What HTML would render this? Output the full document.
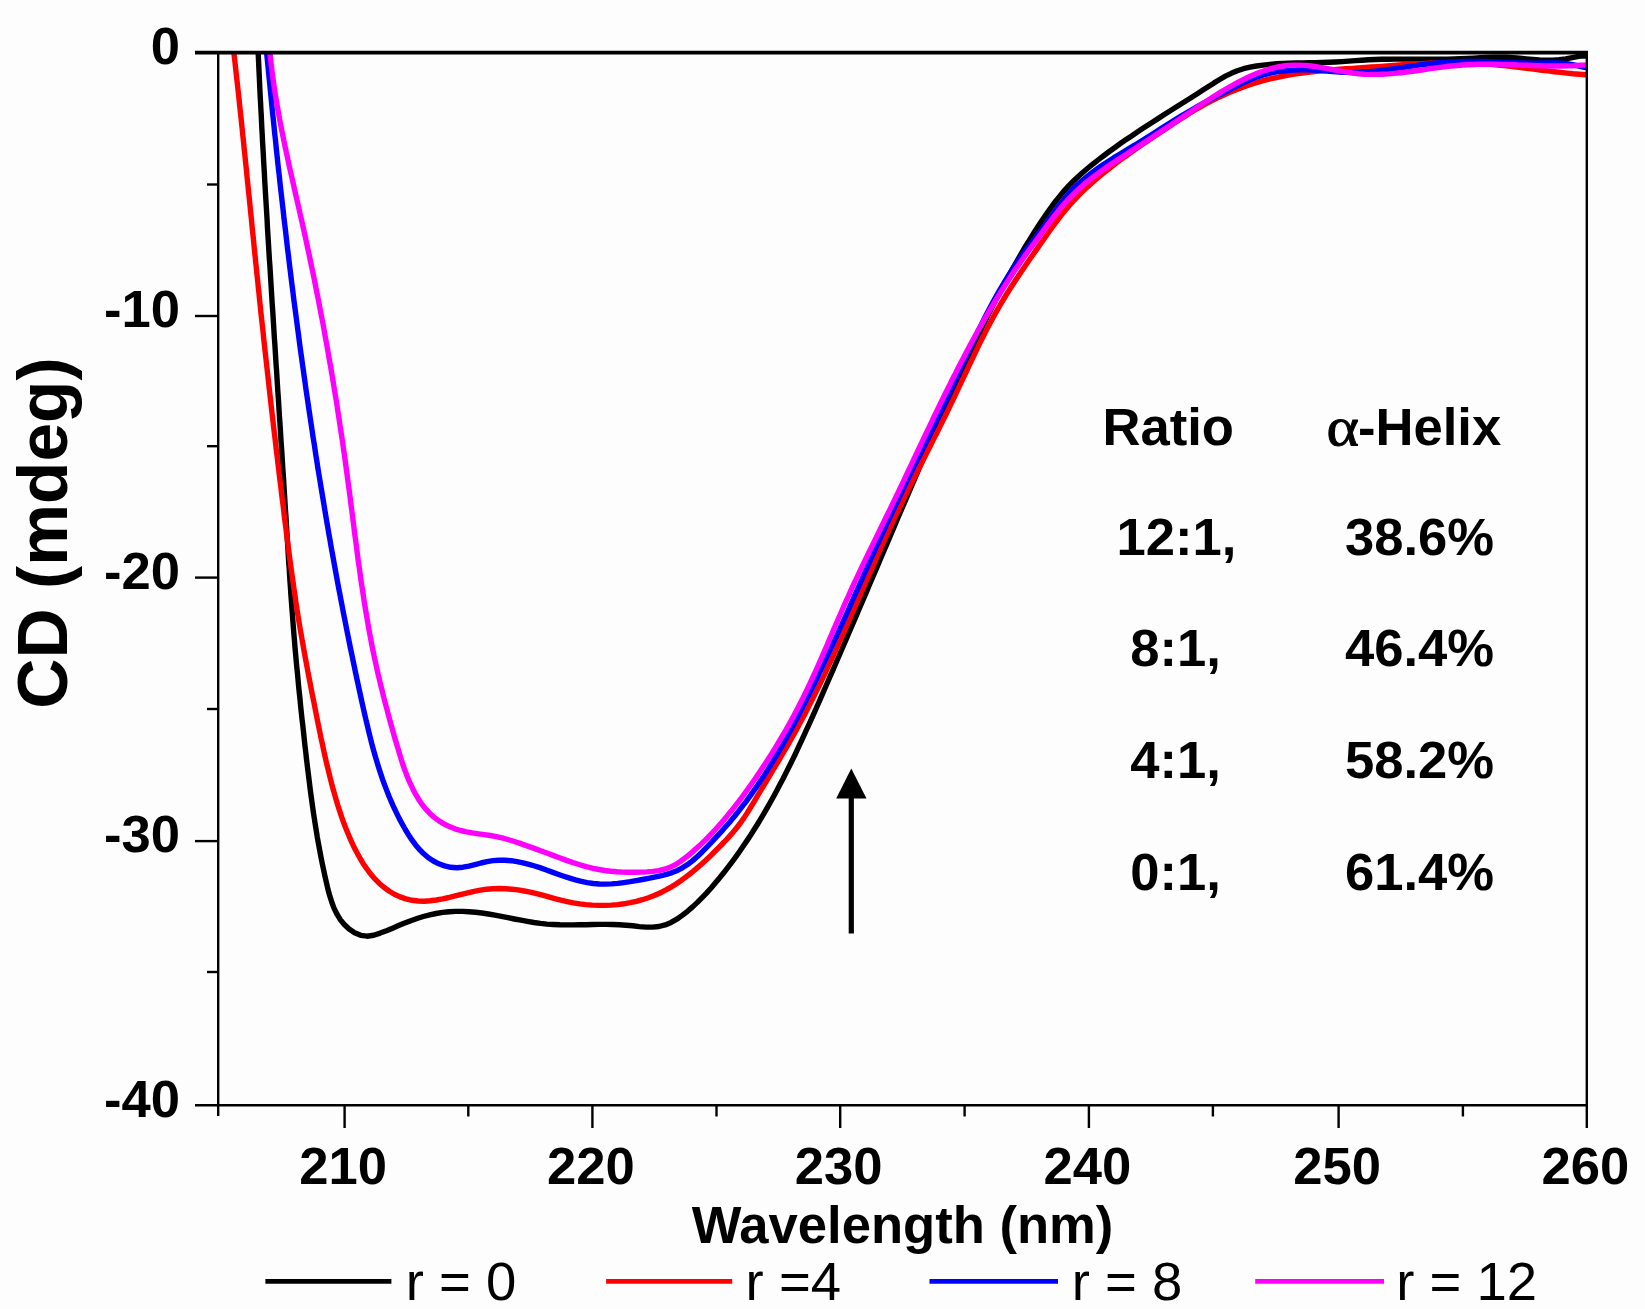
<!DOCTYPE html>
<html lang="en">
<head>
<meta charset="utf-8">
<title>CD spectra</title>
<style>
html,body{margin:0;padding:0;background:#fdfdfd;}
body{width:1645px;height:1309px;overflow:hidden;}
svg{display:block;filter:blur(0.6px);}
</style>
</head>
<body>
<svg width="1645" height="1309" viewBox="0 0 1645 1309">
<rect width="1645" height="1309" fill="#fdfdfd"/>
<clipPath id="c"><rect x="218.2" y="52.6" width="1368.6" height="1052.6000000000001"/></clipPath>
<g clip-path="url(#c)" fill="none" stroke-width="5.4" stroke-linejoin="round">
<path d="M257.7,42.0 L258.0,48.6 L258.3,55.2 L258.6,61.8 L258.9,68.4 L259.2,74.9 L259.5,81.5 L259.8,88.1 L260.1,94.7 L260.5,101.3 L260.8,107.9 L261.2,114.4 L261.5,121.0 L261.8,127.6 L262.2,134.2 L262.5,140.8 L262.9,147.4 L263.3,154.0 L263.6,160.5 L264.0,167.1 L264.4,173.7 L264.7,180.3 L265.1,186.9 L265.5,193.5 L265.9,200.1 L266.3,206.6 L266.7,213.2 L267.1,219.8 L267.4,226.4 L267.8,233.0 L268.2,239.6 L268.6,246.1 L269.0,252.7 L269.4,259.3 L269.9,265.9 L270.3,272.5 L270.7,279.1 L271.1,285.6 L271.5,292.2 L271.9,298.8 L272.3,305.4 L272.8,312.0 L273.2,318.6 L273.6,325.1 L274.0,331.7 L274.4,338.3 L274.9,344.9 L275.3,351.5 L275.7,358.1 L276.1,364.6 L276.6,371.2 L277.0,377.8 L277.4,384.4 L277.8,391.0 L278.3,397.5 L278.7,404.1 L279.1,410.7 L279.5,417.3 L280.0,423.9 L280.4,430.4 L280.8,437.0 L281.2,443.6 L281.7,450.2 L282.1,456.8 L282.5,463.3 L282.9,469.9 L283.4,476.5 L283.8,483.1 L284.2,489.7 L284.6,496.2 L285.0,502.8 L285.4,509.4 L285.9,516.0 L286.3,522.5 L286.7,529.1 L287.1,535.7 L287.5,542.3 L287.9,548.8 L288.3,555.4 L288.7,562.0 L289.2,568.6 L289.6,575.1 L290.0,581.7 L290.5,588.3 L290.9,594.9 L291.4,601.4 L291.9,608.0 L292.4,614.6 L292.9,621.2 L293.4,627.8 L293.9,634.3 L294.5,640.9 L295.0,647.5 L295.6,654.1 L296.2,660.7 L296.8,667.3 L297.5,673.8 L298.1,680.4 L298.7,687.0 L299.4,693.6 L300.1,700.1 L300.7,706.7 L301.4,713.3 L302.1,719.8 L302.9,726.4 L303.6,732.9 L304.3,739.5 L305.0,746.0 L305.8,752.5 L306.5,759.1 L307.3,765.6 L308.1,772.1 L308.9,778.6 L309.7,785.1 L310.5,791.6 L311.4,798.1 L312.3,804.6 L313.2,811.1 L314.2,817.6 L315.2,824.1 L316.3,830.7 L317.3,837.2 L318.5,843.7 L319.7,850.2 L320.9,856.7 L322.2,863.3 L323.6,869.8 L325.0,876.4 L326.5,882.9 L328.0,889.5 L329.8,895.9 L331.8,902.3 L334.1,908.4 L337.0,914.2 L340.3,919.6 L344.3,924.5 L349.1,929.0 L354.6,932.7 L360.7,935.3 L367.1,936.2 L373.7,935.3 L380.2,933.1 L386.5,930.7 L392.6,928.2 L398.6,925.6 L404.7,923.1 L410.8,920.7 L417.0,918.5 L423.3,916.5 L429.7,914.9 L436.2,913.5 L442.7,912.4 L449.2,911.7 L455.8,911.4 L462.3,911.4 L468.9,911.7 L475.4,912.2 L481.9,913.0 L488.4,914.0 L494.9,915.2 L501.4,916.4 L507.9,917.7 L514.4,919.0 L520.9,920.2 L527.4,921.4 L533.9,922.5 L540.4,923.4 L546.9,924.1 L553.4,924.5 L559.9,924.8 L566.4,924.9 L573.0,924.9 L579.5,924.8 L586.1,924.7 L592.7,924.5 L599.3,924.4 L605.9,924.4 L612.6,924.5 L619.3,924.7 L626.0,925.2 L632.7,925.8 L639.4,926.6 L646.1,927.1 L652.6,927.1 L659.0,926.5 L665.2,924.9 L671.1,922.4 L676.8,919.2 L682.2,915.4 L687.5,911.3 L692.6,906.9 L697.4,902.4 L702.1,897.7 L706.7,892.9 L711.1,888.0 L715.3,883.0 L719.5,878.0 L723.7,872.8 L727.7,867.6 L731.7,862.4 L735.6,857.1 L739.4,851.7 L743.1,846.3 L746.8,840.9 L750.4,835.4 L754.0,829.8 L757.5,824.2 L760.9,818.6 L764.3,812.9 L767.6,807.2 L770.8,801.5 L774.0,795.7 L777.1,789.9 L780.2,784.1 L783.3,778.3 L786.2,772.4 L789.2,766.5 L792.1,760.6 L795.0,754.7 L797.8,748.7 L800.6,742.7 L803.4,736.7 L806.1,730.7 L808.9,724.7 L811.6,718.7 L814.3,712.7 L816.9,706.7 L819.6,700.6 L822.2,694.6 L824.9,688.5 L827.5,682.5 L830.1,676.4 L832.8,670.4 L835.4,664.3 L838.0,658.3 L840.6,652.2 L843.2,646.2 L845.8,640.1 L848.4,634.0 L851.0,628.0 L853.6,621.9 L856.2,615.9 L858.8,609.8 L861.4,603.7 L864.0,597.7 L866.6,591.6 L869.1,585.5 L871.7,579.5 L874.3,573.4 L876.9,567.4 L879.5,561.3 L882.0,555.2 L884.6,549.2 L887.2,543.1 L889.8,537.0 L892.4,531.0 L894.9,524.9 L897.5,518.8 L900.1,512.8 L902.7,506.7 L905.3,500.6 L907.9,494.6 L910.5,488.5 L913.1,482.5 L915.7,476.4 L918.3,470.3 L920.9,464.3 L923.5,458.2 L926.1,452.2 L928.7,446.1 L931.3,440.1 L934.0,434.0 L936.6,427.9 L939.2,421.9 L941.9,415.9 L944.5,409.8 L947.2,403.8 L949.9,397.7 L952.5,391.7 L955.2,385.6 L957.9,379.6 L960.6,373.6 L963.3,367.6 L966.1,361.6 L968.8,355.6 L971.6,349.6 L974.4,343.6 L977.2,337.6 L980.1,331.7 L982.9,325.7 L985.8,319.8 L988.8,313.9 L991.7,308.0 L994.7,302.1 L997.7,296.2 L1000.8,290.4 L1003.9,284.6 L1007.0,278.8 L1010.2,273.0 L1013.4,267.3 L1016.7,261.6 L1020.0,255.9 L1023.3,250.2 L1026.7,244.5 L1030.2,238.9 L1033.7,233.3 L1037.2,227.8 L1040.8,222.3 L1044.5,216.8 L1048.3,211.4 L1052.1,206.0 L1056.1,200.7 L1060.2,195.6 L1064.4,190.6 L1068.9,185.7 L1073.5,181.0 L1078.3,176.5 L1083.3,172.0 L1088.3,167.8 L1093.5,163.6 L1098.7,159.5 L1104.0,155.5 L1109.3,151.5 L1114.6,147.7 L1120.0,143.8 L1125.4,140.1 L1130.9,136.4 L1136.3,132.7 L1141.8,129.1 L1147.3,125.5 L1152.8,121.9 L1158.4,118.4 L1163.9,114.8 L1169.5,111.3 L1175.0,107.8 L1180.6,104.3 L1186.2,100.8 L1191.8,97.2 L1197.3,93.7 L1202.9,90.1 L1208.5,86.5 L1214.1,82.9 L1219.7,79.5 L1225.4,76.2 L1231.3,73.3 L1237.3,70.8 L1243.5,68.7 L1250.0,67.2 L1256.5,66.0 L1263.1,65.1 L1269.7,64.4 L1276.3,63.8 L1282.9,63.5 L1289.5,63.2 L1296.1,63.0 L1302.6,62.9 L1309.2,62.8 L1315.8,62.7 L1322.4,62.5 L1329.0,62.3 L1335.5,62.0 L1342.1,61.6 L1348.7,61.1 L1355.3,60.6 L1361.9,60.2 L1368.4,59.8 L1375.0,59.5 L1381.6,59.3 L1388.2,59.2 L1394.8,59.1 L1401.4,59.1 L1408.0,59.1 L1414.6,59.1 L1421.2,59.1 L1427.8,59.2 L1434.4,59.2 L1441.0,59.2 L1447.6,59.1 L1454.2,59.0 L1460.7,58.8 L1467.3,58.5 L1473.8,58.1 L1480.4,57.7 L1486.9,57.4 L1493.5,57.2 L1500.0,57.1 L1506.6,57.3 L1513.2,57.7 L1519.8,58.3 L1526.3,58.9 L1532.9,59.4 L1539.5,59.9 L1546.1,60.1 L1552.7,60.1 L1559.2,59.7 L1565.8,58.9 L1572.3,57.6 L1578.8,56.4 L1585.4,55.8 L1592.0,56.5" stroke="#000"/>
<path d="M232.6,42.0 L233.4,48.3 L234.1,54.6 L234.8,60.8 L235.5,67.1 L236.2,73.4 L236.9,79.7 L237.6,86.0 L238.3,92.3 L239.0,98.6 L239.6,104.8 L240.3,111.1 L241.0,117.4 L241.6,123.7 L242.3,130.0 L242.9,136.3 L243.6,142.6 L244.2,148.9 L244.9,155.2 L245.5,161.5 L246.2,167.8 L246.8,174.0 L247.4,180.3 L248.1,186.6 L248.7,192.9 L249.4,199.2 L250.0,205.5 L250.6,211.8 L251.3,218.1 L251.9,224.4 L252.5,230.7 L253.2,237.0 L253.8,243.3 L254.4,249.6 L255.1,255.9 L255.7,262.2 L256.4,268.5 L257.0,274.7 L257.7,281.0 L258.3,287.3 L259.0,293.6 L259.6,299.9 L260.3,306.2 L260.9,312.5 L261.6,318.8 L262.3,325.0 L263.0,331.3 L263.6,337.6 L264.3,343.9 L265.0,350.2 L265.7,356.5 L266.4,362.7 L267.1,369.0 L267.8,375.3 L268.5,381.6 L269.2,387.9 L269.9,394.2 L270.6,400.4 L271.3,406.7 L272.0,413.0 L272.8,419.3 L273.5,425.6 L274.2,431.8 L275.0,438.1 L275.7,444.4 L276.4,450.7 L277.2,457.0 L277.9,463.2 L278.7,469.5 L279.4,475.8 L280.2,482.1 L281.0,488.3 L281.7,494.6 L282.5,500.9 L283.3,507.2 L284.0,513.5 L284.8,519.8 L285.6,526.0 L286.4,532.3 L287.2,538.6 L288.0,544.9 L288.8,551.2 L289.6,557.4 L290.5,563.7 L291.3,570.0 L292.2,576.2 L293.1,582.5 L294.0,588.8 L294.9,595.0 L295.8,601.3 L296.7,607.5 L297.7,613.8 L298.7,620.0 L299.7,626.2 L300.8,632.4 L301.9,638.6 L303.0,644.8 L304.1,651.0 L305.2,657.2 L306.4,663.4 L307.5,669.6 L308.7,675.8 L309.9,682.0 L311.1,688.2 L312.3,694.4 L313.6,700.7 L314.8,706.9 L316.0,713.1 L317.2,719.3 L318.5,725.6 L319.8,731.8 L321.0,738.0 L322.4,744.2 L323.7,750.4 L325.1,756.6 L326.5,762.8 L328.0,768.9 L329.5,775.1 L331.0,781.2 L332.6,787.2 L334.3,793.3 L336.0,799.3 L337.8,805.3 L339.7,811.2 L341.7,817.2 L343.8,823.1 L346.1,828.9 L348.5,834.8 L351.0,840.6 L353.7,846.4 L356.7,852.2 L359.8,857.8 L363.1,863.4 L366.7,868.7 L370.6,873.9 L374.7,878.7 L379.1,883.2 L383.9,887.3 L389.0,891.0 L394.4,894.2 L400.1,896.9 L406.0,898.9 L412.0,900.3 L418.1,901.0 L424.2,901.2 L430.3,900.8 L436.5,900.0 L442.7,898.9 L448.9,897.5 L455.2,895.9 L461.5,894.4 L467.8,892.8 L474.1,891.4 L480.4,890.2 L486.7,889.2 L493.0,888.7 L499.3,888.5 L505.5,888.7 L511.8,889.2 L518.0,889.9 L524.2,891.0 L530.4,892.2 L536.5,893.6 L542.6,895.2 L548.7,896.9 L554.8,898.6 L560.9,900.2 L567.1,901.6 L573.3,902.9 L579.6,903.9 L585.9,904.6 L592.3,905.1 L598.6,905.4 L605.0,905.4 L611.3,905.1 L617.7,904.6 L623.9,903.8 L630.2,902.7 L636.3,901.3 L642.4,899.7 L648.4,897.7 L654.2,895.5 L660.0,893.0 L665.6,890.2 L671.0,887.1 L676.4,883.8 L681.6,880.2 L686.7,876.4 L691.7,872.5 L696.6,868.4 L701.4,864.2 L706.1,859.9 L710.8,855.5 L715.3,851.0 L719.8,846.5 L724.2,842.0 L728.5,837.4 L732.6,832.8 L736.6,828.0 L740.4,823.0 L744.0,817.9 L747.4,812.6 L750.7,807.3 L754.0,801.8 L757.2,796.4 L760.5,790.9 L763.7,785.5 L767.0,780.1 L770.3,774.6 L773.5,769.2 L776.8,763.8 L780.0,758.3 L783.2,752.9 L786.4,747.4 L789.6,741.9 L792.7,736.4 L795.8,730.9 L798.8,725.3 L801.8,719.8 L804.8,714.2 L807.7,708.6 L810.6,702.9 L813.4,697.3 L816.2,691.6 L819.0,686.0 L821.7,680.3 L824.5,674.6 L827.1,668.8 L829.8,663.1 L832.5,657.4 L835.1,651.6 L837.7,645.9 L840.3,640.1 L842.9,634.3 L845.4,628.5 L848.0,622.8 L850.5,617.0 L853.1,611.2 L855.6,605.4 L858.1,599.6 L860.7,593.8 L863.2,588.0 L865.8,582.2 L868.3,576.4 L870.8,570.6 L873.4,564.8 L876.0,559.0 L878.5,553.2 L881.1,547.5 L883.7,541.7 L886.3,535.9 L889.0,530.2 L891.6,524.4 L894.3,518.7 L897.0,513.0 L899.7,507.3 L902.4,501.6 L905.2,495.9 L908.0,490.2 L910.8,484.6 L913.6,478.9 L916.4,473.2 L919.3,467.6 L922.1,462.0 L925.0,456.3 L927.8,450.7 L930.7,445.0 L933.5,439.4 L936.4,433.7 L939.2,428.1 L942.0,422.4 L944.8,416.7 L947.6,411.0 L950.3,405.3 L953.1,399.6 L955.8,393.9 L958.5,388.2 L961.2,382.4 L963.9,376.7 L966.6,371.0 L969.2,365.2 L972.0,359.5 L974.7,353.8 L977.4,348.1 L980.2,342.4 L983.1,336.8 L985.9,331.1 L988.8,325.5 L991.8,319.9 L994.8,314.4 L997.9,308.9 L1001.1,303.4 L1004.3,298.0 L1007.6,292.6 L1011.0,287.3 L1014.4,282.0 L1017.9,276.7 L1021.4,271.4 L1025.0,266.2 L1028.5,261.0 L1032.2,255.8 L1035.8,250.6 L1039.4,245.4 L1043.1,240.2 L1046.7,235.0 L1050.4,229.8 L1054.1,224.7 L1057.9,219.6 L1061.7,214.6 L1065.7,209.7 L1069.8,204.9 L1074.0,200.3 L1078.4,195.7 L1082.8,191.2 L1087.4,186.9 L1092.1,182.7 L1096.9,178.5 L1101.7,174.4 L1106.7,170.5 L1111.7,166.6 L1116.7,162.7 L1121.8,158.9 L1127.0,155.2 L1132.2,151.5 L1137.4,147.9 L1142.6,144.3 L1147.8,140.7 L1153.0,137.2 L1158.3,133.7 L1163.6,130.2 L1168.8,126.7 L1174.1,123.3 L1179.4,119.8 L1184.7,116.4 L1190.0,113.0 L1195.4,109.8 L1200.8,106.6 L1206.3,103.5 L1211.9,100.6 L1217.6,97.8 L1223.3,95.2 L1229.1,92.6 L1235.0,90.2 L1240.9,87.9 L1246.9,85.8 L1253.0,83.7 L1259.0,81.9 L1265.1,80.2 L1271.2,78.7 L1277.4,77.3 L1283.5,76.0 L1289.7,74.9 L1296.0,73.9 L1302.2,73.0 L1308.4,72.2 L1314.7,71.5 L1321.0,70.9 L1327.3,70.3 L1333.6,69.8 L1339.9,69.3 L1346.2,68.8 L1352.5,68.4 L1358.8,67.9 L1365.2,67.5 L1371.5,67.0 L1377.8,66.6 L1384.1,66.1 L1390.4,65.6 L1396.8,65.2 L1403.1,64.7 L1409.4,64.3 L1415.7,63.9 L1422.0,63.6 L1428.3,63.3 L1434.6,63.0 L1440.9,62.8 L1447.3,62.7 L1453.6,62.7 L1459.9,62.7 L1466.2,62.9 L1472.5,63.1 L1478.8,63.5 L1485.1,63.9 L1491.4,64.4 L1497.7,65.0 L1504.0,65.6 L1510.3,66.3 L1516.6,67.0 L1522.8,67.8 L1529.1,68.6 L1535.4,69.4 L1541.7,70.2 L1548.0,70.9 L1554.3,71.7 L1560.6,72.4 L1566.9,73.1 L1573.1,73.8 L1579.4,74.3 L1585.7,74.8 L1592.0,75.2" stroke="#ff0000"/>
<path d="M265.7,42.0 L266.3,48.1 L266.8,54.2 L267.4,60.3 L268.0,66.4 L268.6,72.5 L269.2,78.6 L269.8,84.6 L270.4,90.7 L271.0,96.8 L271.6,102.9 L272.2,109.0 L272.8,115.1 L273.5,121.2 L274.1,127.3 L274.7,133.4 L275.4,139.5 L276.0,145.6 L276.6,151.7 L277.3,157.8 L277.9,163.9 L278.6,170.0 L279.3,176.0 L279.9,182.1 L280.6,188.2 L281.3,194.3 L282.0,200.4 L282.7,206.5 L283.4,212.6 L284.0,218.7 L284.8,224.8 L285.5,230.8 L286.2,236.9 L286.9,243.0 L287.6,249.1 L288.4,255.2 L289.1,261.3 L289.8,267.3 L290.6,273.4 L291.3,279.5 L292.1,285.6 L292.9,291.7 L293.6,297.7 L294.4,303.8 L295.2,309.9 L296.0,316.0 L296.8,322.0 L297.6,328.1 L298.4,334.2 L299.2,340.3 L300.0,346.3 L300.8,352.4 L301.7,358.5 L302.5,364.5 L303.4,370.6 L304.2,376.7 L305.1,382.7 L305.9,388.8 L306.8,394.9 L307.7,400.9 L308.6,407.0 L309.5,413.1 L310.4,419.1 L311.3,425.2 L312.2,431.2 L313.1,437.3 L314.1,443.3 L315.0,449.4 L315.9,455.4 L316.9,461.5 L317.8,467.5 L318.8,473.6 L319.8,479.6 L320.8,485.7 L321.8,491.7 L322.8,497.8 L323.8,503.8 L324.8,509.9 L325.8,515.9 L326.8,521.9 L327.9,528.0 L328.9,534.0 L330.0,540.0 L331.0,546.1 L332.1,552.1 L333.2,558.1 L334.3,564.2 L335.4,570.2 L336.5,576.2 L337.6,582.2 L338.7,588.3 L339.9,594.3 L341.0,600.3 L342.2,606.3 L343.3,612.3 L344.5,618.3 L345.7,624.3 L346.9,630.4 L348.1,636.4 L349.3,642.4 L350.5,648.4 L351.8,654.4 L353.0,660.4 L354.3,666.4 L355.5,672.4 L356.8,678.4 L358.1,684.4 L359.4,690.4 L360.7,696.4 L362.0,702.3 L363.3,708.3 L364.7,714.3 L366.1,720.3 L367.5,726.2 L368.9,732.2 L370.4,738.1 L371.9,744.1 L373.5,750.0 L375.2,755.9 L376.9,761.7 L378.7,767.6 L380.6,773.4 L382.5,779.2 L384.6,784.9 L386.8,790.6 L389.0,796.3 L391.4,801.9 L393.9,807.5 L396.6,813.1 L399.3,818.6 L402.2,824.0 L405.3,829.5 L408.5,834.8 L411.9,839.9 L415.6,844.9 L419.5,849.5 L423.8,853.8 L428.4,857.7 L433.4,861.0 L438.8,863.8 L444.6,865.9 L450.7,867.3 L456.8,867.7 L462.9,867.2 L468.9,866.1 L475.0,864.6 L481.0,863.0 L487.0,861.6 L493.0,860.6 L499.0,860.2 L505.0,860.3 L511.1,860.7 L517.0,861.6 L523.0,862.8 L528.9,864.3 L534.7,866.0 L540.6,867.9 L546.4,870.0 L552.2,872.1 L558.0,874.2 L563.8,876.2 L569.7,878.1 L575.5,879.9 L581.4,881.4 L587.3,882.6 L593.3,883.5 L599.4,884.0 L605.5,884.1 L611.6,883.9 L617.7,883.4 L623.9,882.6 L630.1,881.7 L636.2,880.6 L642.4,879.5 L648.5,878.3 L654.5,877.1 L660.5,875.8 L666.4,874.4 L672.0,872.6 L677.5,870.4 L682.8,867.6 L687.9,864.3 L692.7,860.6 L697.4,856.5 L701.9,852.2 L706.3,847.7 L710.6,843.2 L714.8,838.7 L719.0,834.1 L723.1,829.6 L727.1,825.0 L731.1,820.4 L735.0,815.7 L738.8,810.9 L742.5,806.1 L746.2,801.3 L749.8,796.4 L753.3,791.4 L756.8,786.4 L760.2,781.3 L763.6,776.2 L766.9,771.1 L770.1,765.9 L773.3,760.7 L776.5,755.4 L779.6,750.1 L782.6,744.8 L785.6,739.4 L788.6,734.0 L791.5,728.6 L794.4,723.2 L797.3,717.8 L800.1,712.3 L802.9,706.8 L805.7,701.3 L808.4,695.8 L811.1,690.3 L813.8,684.8 L816.5,679.3 L819.1,673.7 L821.7,668.2 L824.3,662.6 L826.9,657.1 L829.5,651.5 L832.1,645.9 L834.6,640.4 L837.1,634.8 L839.7,629.2 L842.2,623.6 L844.7,618.1 L847.2,612.5 L849.7,606.9 L852.1,601.3 L854.6,595.7 L857.1,590.1 L859.6,584.5 L862.1,578.9 L864.5,573.3 L867.0,567.8 L869.5,562.2 L872.0,556.6 L874.5,551.0 L877.0,545.4 L879.5,539.9 L882.0,534.3 L884.6,528.7 L887.1,523.2 L889.7,517.6 L892.3,512.1 L894.9,506.5 L897.5,501.0 L900.1,495.5 L902.7,489.9 L905.4,484.4 L908.1,478.9 L910.8,473.4 L913.4,467.9 L916.1,462.4 L918.8,456.9 L921.5,451.3 L924.2,445.8 L926.9,440.3 L929.6,434.8 L932.3,429.3 L934.9,423.7 L937.6,418.2 L940.2,412.6 L942.8,407.1 L945.4,401.5 L948.0,396.0 L950.6,390.4 L953.1,384.8 L955.7,379.2 L958.2,373.6 L960.8,368.0 L963.3,362.5 L965.9,356.9 L968.5,351.3 L971.1,345.8 L973.7,340.2 L976.4,334.7 L979.0,329.2 L981.8,323.7 L984.5,318.3 L987.3,312.8 L990.1,307.4 L993.0,302.0 L996.0,296.7 L999.0,291.4 L1002.1,286.1 L1005.2,280.9 L1008.4,275.7 L1011.7,270.5 L1015.0,265.4 L1018.5,260.3 L1022.0,255.3 L1025.6,250.3 L1029.4,245.4 L1033.1,240.6 L1036.9,235.7 L1040.6,230.8 L1044.3,225.8 L1047.8,220.8 L1051.4,215.8 L1055.0,210.8 L1058.6,205.9 L1062.4,201.1 L1066.3,196.4 L1070.3,191.9 L1074.6,187.5 L1079.1,183.3 L1083.7,179.3 L1088.5,175.4 L1093.3,171.6 L1098.3,168.0 L1103.4,164.5 L1108.5,161.2 L1113.6,157.9 L1118.8,154.7 L1124.1,151.5 L1129.3,148.3 L1134.6,145.2 L1139.8,142.0 L1145.0,138.7 L1150.2,135.5 L1155.4,132.2 L1160.6,128.9 L1165.8,125.6 L1171.0,122.4 L1176.2,119.1 L1181.4,115.9 L1186.7,112.8 L1191.9,109.7 L1197.2,106.6 L1202.5,103.7 L1207.9,100.8 L1213.2,98.1 L1218.7,95.3 L1224.1,92.5 L1229.6,89.6 L1235.1,86.8 L1240.6,84.0 L1246.2,81.4 L1251.9,79.0 L1257.7,76.8 L1263.5,75.0 L1269.4,73.4 L1275.3,72.2 L1281.3,71.2 L1287.3,70.5 L1293.4,70.1 L1299.5,69.8 L1305.6,69.8 L1311.8,70.0 L1317.9,70.3 L1324.0,70.8 L1330.1,71.3 L1336.2,71.8 L1342.3,72.2 L1348.4,72.4 L1354.5,72.5 L1360.6,72.3 L1366.7,71.9 L1372.8,71.4 L1378.9,70.8 L1385.0,70.0 L1391.1,69.2 L1397.2,68.3 L1403.2,67.4 L1409.3,66.5 L1415.4,65.6 L1421.5,64.7 L1427.6,64.0 L1433.7,63.3 L1439.8,62.8 L1445.9,62.3 L1452.0,61.9 L1458.0,61.6 L1464.1,61.5 L1470.3,61.4 L1476.4,61.4 L1482.5,61.5 L1488.6,61.7 L1494.7,61.9 L1500.9,62.2 L1507.0,62.4 L1513.1,62.7 L1519.3,62.9 L1525.4,63.0 L1531.5,63.1 L1537.7,63.1 L1543.8,63.0 L1549.9,62.9 L1556.0,62.9 L1562.1,63.2 L1568.1,63.8 L1574.0,64.9 L1580.0,66.3 L1585.9,67.7 L1591.9,68.9" stroke="#0000ff"/>
<path d="M269.0,41.9 L269.5,47.9 L270.1,53.9 L270.7,59.9 L271.4,65.9 L272.1,71.9 L272.9,77.8 L273.7,83.8 L274.6,89.7 L275.5,95.6 L276.5,101.5 L277.5,107.4 L278.6,113.3 L279.6,119.2 L280.8,125.1 L281.9,131.0 L283.1,136.9 L284.3,142.8 L285.5,148.6 L286.8,154.5 L288.1,160.3 L289.3,166.2 L290.6,172.0 L292.0,177.9 L293.3,183.8 L294.6,189.6 L295.9,195.4 L297.3,201.3 L298.6,207.1 L299.9,213.0 L301.3,218.8 L302.6,224.7 L303.9,230.6 L305.2,236.4 L306.5,242.3 L307.7,248.1 L309.0,254.0 L310.2,259.9 L311.4,265.7 L312.7,271.6 L313.9,277.5 L315.1,283.4 L316.2,289.3 L317.4,295.1 L318.6,301.0 L319.7,306.9 L320.8,312.8 L322.0,318.7 L323.1,324.6 L324.2,330.5 L325.2,336.4 L326.3,342.3 L327.4,348.2 L328.4,354.1 L329.4,360.0 L330.5,365.9 L331.5,371.8 L332.5,377.7 L333.5,383.7 L334.4,389.6 L335.4,395.5 L336.4,401.4 L337.3,407.3 L338.2,413.3 L339.1,419.2 L340.0,425.1 L340.9,431.1 L341.8,437.0 L342.7,442.9 L343.5,448.9 L344.4,454.8 L345.2,460.7 L346.0,466.7 L346.8,472.6 L347.6,478.6 L348.4,484.5 L349.2,490.4 L350.0,496.4 L350.7,502.3 L351.5,508.3 L352.3,514.2 L353.0,520.2 L353.8,526.1 L354.5,532.1 L355.3,538.0 L356.1,544.0 L356.9,549.9 L357.6,555.9 L358.4,561.8 L359.3,567.7 L360.1,573.7 L360.9,579.6 L361.8,585.5 L362.7,591.5 L363.6,597.4 L364.5,603.3 L365.5,609.2 L366.5,615.2 L367.5,621.1 L368.5,627.0 L369.6,632.9 L370.7,638.8 L371.8,644.7 L373.0,650.6 L374.2,656.5 L375.5,662.3 L376.8,668.2 L378.1,674.1 L379.5,679.9 L380.9,685.8 L382.4,691.6 L383.8,697.5 L385.3,703.3 L386.9,709.1 L388.4,714.9 L390.0,720.7 L391.6,726.4 L393.2,732.2 L394.8,737.9 L396.5,743.6 L398.2,749.3 L399.9,755.0 L401.6,760.6 L403.5,766.3 L405.5,771.9 L407.7,777.6 L410.1,783.2 L412.7,788.7 L415.6,794.1 L418.7,799.4 L422.1,804.4 L425.8,809.1 L429.9,813.4 L434.3,817.4 L439.0,820.9 L444.1,824.0 L449.4,826.6 L454.9,828.8 L460.6,830.5 L466.5,831.8 L472.4,832.9 L478.4,833.8 L484.4,834.6 L490.4,835.5 L496.3,836.6 L502.2,837.9 L507.9,839.5 L513.6,841.3 L519.3,843.1 L525.0,845.1 L530.6,847.1 L536.2,849.1 L541.9,851.2 L547.5,853.3 L553.1,855.4 L558.8,857.5 L564.4,859.6 L570.1,861.6 L575.8,863.5 L581.5,865.3 L587.3,866.9 L593.1,868.3 L598.9,869.5 L604.8,870.5 L610.7,871.3 L616.7,871.8 L622.7,872.1 L628.7,872.2 L634.8,872.2 L640.8,872.1 L646.9,871.9 L652.9,871.4 L658.7,870.6 L664.5,869.2 L670.0,867.3 L675.3,864.7 L680.3,861.5 L685.2,857.9 L689.9,854.1 L694.5,850.1 L699.0,846.1 L703.4,841.9 L707.7,837.7 L711.8,833.4 L715.9,829.0 L719.9,824.5 L723.8,820.0 L727.6,815.4 L731.4,810.8 L735.1,806.1 L738.8,801.3 L742.4,796.6 L745.9,791.7 L749.4,786.9 L752.9,782.0 L756.3,777.1 L759.7,772.1 L763.0,767.1 L766.3,762.1 L769.6,757.0 L772.8,752.0 L775.9,746.9 L779.0,741.7 L782.1,736.5 L785.1,731.3 L788.1,726.1 L791.0,720.9 L793.9,715.6 L796.7,710.3 L799.4,705.0 L802.2,699.6 L804.8,694.2 L807.4,688.8 L810.0,683.4 L812.5,678.0 L815.0,672.5 L817.5,667.0 L819.9,661.6 L822.3,656.1 L824.7,650.6 L827.1,645.1 L829.4,639.5 L831.8,634.0 L834.1,628.5 L836.5,623.0 L838.9,617.5 L841.3,612.0 L843.7,606.5 L846.1,601.0 L848.6,595.6 L851.0,590.1 L853.5,584.7 L856.1,579.3 L858.6,573.8 L861.2,568.4 L863.8,563.0 L866.4,557.6 L869.0,552.2 L871.6,546.9 L874.3,541.5 L876.9,536.1 L879.5,530.7 L882.2,525.3 L884.8,519.9 L887.4,514.5 L890.1,509.1 L892.7,503.7 L895.3,498.3 L897.9,492.9 L900.5,487.5 L903.1,482.1 L905.6,476.7 L908.2,471.2 L910.8,465.8 L913.3,460.4 L915.9,454.9 L918.5,449.5 L921.0,444.1 L923.6,438.6 L926.2,433.2 L928.8,427.8 L931.4,422.4 L934.0,416.9 L936.6,411.5 L939.2,406.1 L941.8,400.7 L944.4,395.3 L947.1,390.0 L949.8,384.6 L952.4,379.2 L955.2,373.9 L957.9,368.5 L960.6,363.2 L963.4,357.9 L966.2,352.6 L969.0,347.3 L971.8,342.0 L974.7,336.8 L977.6,331.5 L980.5,326.3 L983.5,321.1 L986.5,315.9 L989.5,310.7 L992.5,305.6 L995.6,300.4 L998.8,295.3 L1001.9,290.2 L1005.1,285.2 L1008.4,280.1 L1011.7,275.1 L1015.0,270.1 L1018.4,265.2 L1021.8,260.2 L1025.3,255.3 L1028.8,250.5 L1032.4,245.6 L1036.0,240.8 L1039.6,235.9 L1043.1,231.1 L1046.7,226.2 L1050.3,221.4 L1053.9,216.6 L1057.6,211.9 L1061.3,207.2 L1065.2,202.7 L1069.2,198.3 L1073.4,194.1 L1077.7,190.0 L1082.1,186.0 L1086.7,182.1 L1091.3,178.4 L1096.1,174.8 L1101.0,171.2 L1105.9,167.8 L1110.9,164.3 L1115.9,161.0 L1120.9,157.7 L1126.0,154.4 L1131.1,151.1 L1136.2,147.8 L1141.2,144.5 L1146.2,141.2 L1151.2,137.9 L1156.2,134.6 L1161.2,131.3 L1166.2,128.0 L1171.1,124.7 L1176.1,121.4 L1181.0,118.0 L1186.0,114.7 L1191.0,111.4 L1196.0,108.1 L1201.0,104.8 L1206.0,101.6 L1211.0,98.3 L1216.1,95.1 L1221.2,91.9 L1226.4,88.8 L1231.6,85.8 L1236.9,82.9 L1242.2,80.1 L1247.6,77.5 L1253.1,75.0 L1258.6,72.7 L1264.3,70.7 L1270.0,68.9 L1275.8,67.4 L1281.7,66.2 L1287.6,65.4 L1293.5,65.1 L1299.4,65.1 L1305.3,65.4 L1311.2,66.0 L1317.1,66.8 L1323.1,67.8 L1329.0,68.9 L1335.0,70.0 L1340.9,71.1 L1346.9,72.1 L1352.8,73.0 L1358.8,73.7 L1364.7,74.2 L1370.7,74.4 L1376.6,74.4 L1382.6,74.2 L1388.5,73.9 L1394.5,73.4 L1400.4,72.8 L1406.4,72.1 L1412.4,71.3 L1418.3,70.5 L1424.3,69.6 L1430.2,68.7 L1436.2,67.9 L1442.2,67.1 L1448.1,66.3 L1454.1,65.7 L1460.1,65.2 L1466.1,64.7 L1472.1,64.5 L1478.0,64.3 L1484.0,64.2 L1490.0,64.2 L1496.0,64.3 L1502.0,64.4 L1508.0,64.6 L1514.0,64.8 L1520.0,65.1 L1526.0,65.3 L1532.0,65.5 L1538.0,65.7 L1544.0,65.9 L1550.0,66.0 L1556.0,66.0 L1562.0,66.0 L1568.0,65.9 L1574.0,65.7 L1580.0,65.3 L1586.0,64.9 L1592.0,64.3" stroke="#ff00ff"/>
</g>
<g stroke="#000" fill="none">
<line x1="195" y1="52.6" x2="1588.0" y2="52.6" stroke-width="3.8"/>
<line x1="218.2" y1="52.6" x2="218.2" y2="1116" stroke-width="2.4"/>
<line x1="1586.8" y1="52.6" x2="1586.8" y2="1128" stroke-width="2.4"/>
<line x1="195" y1="1105.2" x2="1587.8999999999999" y2="1105.2" stroke-width="2.5"/>
<line x1="207" y1="184.5" x2="218.2" y2="184.5" stroke-width="2.4"/>
<line x1="195" y1="316" x2="218.2" y2="316" stroke-width="2.4"/>
<line x1="207" y1="446.2" x2="218.2" y2="446.2" stroke-width="2.4"/>
<line x1="195" y1="577.6" x2="218.2" y2="577.6" stroke-width="2.4"/>
<line x1="207" y1="709" x2="218.2" y2="709" stroke-width="2.4"/>
<line x1="195" y1="841.1" x2="218.2" y2="841.1" stroke-width="2.4"/>
<line x1="207" y1="972" x2="218.2" y2="972" stroke-width="2.4"/>
<line x1="344.6" y1="1105.2" x2="344.6" y2="1128" stroke-width="2.4"/>
<line x1="468.3" y1="1105.2" x2="468.3" y2="1116.5" stroke-width="2.4"/>
<line x1="592.4" y1="1105.2" x2="592.4" y2="1128" stroke-width="2.4"/>
<line x1="716.5" y1="1105.2" x2="716.5" y2="1116.5" stroke-width="2.4"/>
<line x1="840.2" y1="1105.2" x2="840.2" y2="1128" stroke-width="2.4"/>
<line x1="964.6" y1="1105.2" x2="964.6" y2="1116.5" stroke-width="2.4"/>
<line x1="1088.9" y1="1105.2" x2="1088.9" y2="1128" stroke-width="2.4"/>
<line x1="1212.9" y1="1105.2" x2="1212.9" y2="1116.5" stroke-width="2.4"/>
<line x1="1338.6" y1="1105.2" x2="1338.6" y2="1128" stroke-width="2.4"/>
<line x1="1462.9" y1="1105.2" x2="1462.9" y2="1116.5" stroke-width="2.4"/>
</g>
<line x1="851.3" y1="797" x2="851.3" y2="933.5" stroke="#000" stroke-width="5.2"/>
<polygon points="851.3,768.5 866.5,798.5 836.2,798.5" fill="#000"/>
<g font-family="'Liberation Sans', sans-serif" fill="#000">
<g font-weight="bold" font-size="52.6" text-anchor="end">
<text x="180" y="63.9">0</text>
<text x="180" y="327.3">-10</text>
<text x="180" y="588.9">-20</text>
<text x="180" y="852.4">-30</text>
<text x="180" y="1116.5">-40</text>
</g>
<g font-weight="bold" font-size="52.6" text-anchor="middle">
<text x="343.1" y="1184">210</text>
<text x="590.9" y="1184">220</text>
<text x="838.7" y="1184">230</text>
<text x="1087.4" y="1184">240</text>
<text x="1337.1" y="1184">250</text>
<text x="1585.3" y="1184">260</text>
<text x="902.5" y="1242.5">Wavelength (nm)</text>
</g>
<text transform="translate(67.3,533) rotate(-90)" font-weight="bold" font-size="69.5" text-anchor="middle">CD (mdeg)</text>
<g font-weight="bold" font-size="52.6">
<text x="1168.2" y="444.5" text-anchor="middle">Ratio</text>
<text x="1326.5" y="444.5"><tspan dy="0.5" font-family="'Liberation Serif', 'DejaVu Serif', serif" font-weight="normal" font-size="54" stroke="#000" stroke-width="0.9" textLength="32.5" lengthAdjust="spacingAndGlyphs">α</tspan><tspan x="1358" dy="-0.5">-Helix</tspan></text>
<text x="1236.5" y="555" text-anchor="end">12:1,</text>
<text x="1419.5" y="555" text-anchor="middle">38.6%</text>
<text x="1221" y="666.3" text-anchor="end">8:1,</text>
<text x="1419.5" y="666.3" text-anchor="middle">46.4%</text>
<text x="1221" y="777.9" text-anchor="end">4:1,</text>
<text x="1419.5" y="777.9" text-anchor="middle">58.2%</text>
<text x="1221" y="889.5" text-anchor="end">0:1,</text>
<text x="1419.5" y="889.5" text-anchor="middle">61.4%</text>
</g>
<g font-size="54.5">
<line x1="265.4" y1="1281.4" x2="391.4" y2="1281.4" stroke="#000" stroke-width="4.8"/>
<text x="405.8" y="1299.5">r = 0</text>
<line x1="606.1" y1="1281.4" x2="732.2" y2="1281.4" stroke="#ff0000" stroke-width="4.8"/>
<text x="745.6" y="1299.5">r =4</text>
<line x1="929.5" y1="1281.4" x2="1058" y2="1281.4" stroke="#0000ff" stroke-width="4.8"/>
<text x="1071.8" y="1299.5">r = 8</text>
<line x1="1255.2" y1="1281.4" x2="1384" y2="1281.4" stroke="#ff00ff" stroke-width="4.8"/>
<text x="1396.3" y="1299.5">r = 12</text>
</g>
</g>
</svg>
</body>
</html>
